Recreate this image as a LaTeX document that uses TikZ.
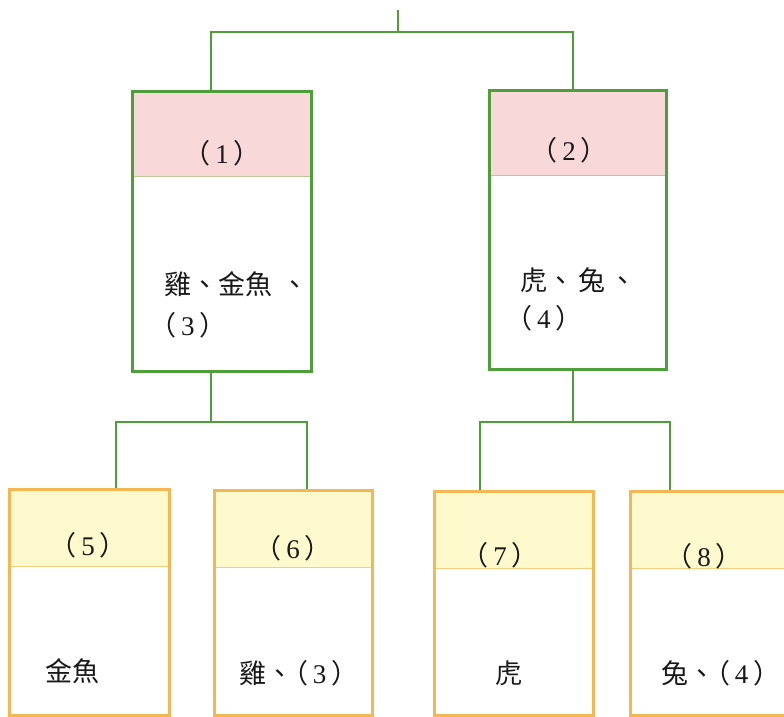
\documentclass[tikz,border=0pt]{standalone}
\usepackage{fontspec}
\newfontfamily\cjk{Noto Sans CJK TC}
\newfontfamily\digf{Liberation Serif}
\newcommand{\numpar}[1]{（\kern0.18em{\digf #1}\kern0.18em）}
\definecolor{grn}{RGB}{78,158,58}
\definecolor{pinkf}{RGB}{248,216,216}
\definecolor{pinkl}{RGB}{190,200,150}
\definecolor{yelf}{RGB}{255,250,206}
\definecolor{yell}{RGB}{245,205,130}
\definecolor{org}{RGB}{245,182,84}
\definecolor{ink}{RGB}{25,25,25}
\begin{document}
\begin{tikzpicture}[x=1pt,y=-1pt,
  conn/.style={draw=grn,line width=2.6pt},
  conns/.style={draw=grn,line width=2.2pt},
  gbox/.style={draw=grn,line width=3.2pt,rectangle,anchor=north west,inner sep=0pt},
  obox/.style={draw=org,line width=3pt,rectangle,anchor=north west,inner sep=0pt},
  phead/.style={fill=pinkf,rectangle,anchor=north west,inner sep=0pt},
  yhead/.style={fill=yelf,rectangle,anchor=north west,inner sep=0pt},
  pdiv/.style={draw=pinkl,line width=1pt},
  ydiv/.style={draw=yell,line width=1pt},
  txt/.style={font=\cjk\fontsize{27}{32}\selectfont,text=ink,inner sep=0pt}]
\useasboundingbox (0,0) rectangle (784,716);
\fill[white] (0,0) rectangle (784,716);
% coordinates for connectors
\coordinate (t) at (398,10);
\coordinate (j1) at (211,32);
\coordinate (j2) at (573,32);
\coordinate (k1) at (211,422);
\coordinate (k2) at (573,422);
\coordinate (c5) at (116,422);
\coordinate (c6) at (307,422);
\coordinate (c7) at (480,422);
\coordinate (c8) at (670,422);
% headers
\node[phead,minimum width=179pt,minimum height=86pt] (h1) at (131,90) {};
\node[phead,minimum width=177pt,minimum height=86pt] (h2) at (488,89) {};
\node[yhead,minimum width=160pt,minimum height=78pt] (h5) at (8,488) {};
\node[yhead,minimum width=158pt,minimum height=78pt] (h6) at (213,489) {};
\node[yhead,minimum width=159pt,minimum height=78pt] (h7) at (433,490) {};
\node[yhead,minimum width=171pt,minimum height=78pt] (h8) at (629,490) {};
\draw[pdiv] (h1.south west) -- (h1.south east);
\draw[pdiv] (h2.south west) -- (h2.south east);
\draw[ydiv] (h5.south west) -- (h5.south east);
\draw[ydiv] (h6.south west) -- (h6.south east);
\draw[ydiv] (h7.south west) -- (h7.south east);
\draw[ydiv] (h8.south west) -- (h8.south east);
% boxes
\node[gbox,minimum width=179pt,minimum height=280pt] (b1) at (131,90) {};
\node[gbox,minimum width=177pt,minimum height=279pt] (b2) at (488,89) {};
\node[obox,minimum width=160pt,minimum height=226pt] (b5) at (8,488) {};
\node[obox,minimum width=158pt,minimum height=225pt] (b6) at (213,489) {};
\node[obox,minimum width=159pt,minimum height=224pt] (b7) at (433,490) {};
\node[obox,minimum width=171pt,minimum height=224pt] (b8) at (629,490) {};
% connectors
\draw[conn] (t) -- (t |- j1);
\draw[conn] (j1 |- b1.north) -- (j1) -- (j2) -- (j2 |- b2.north);
\draw[conn] (k1 |- b1.south) -- (k1);
\draw[conn] (k2 |- b2.south) -- (k2);
\draw[conns] (c5 |- b5.north) -- (c5) -- (c6) -- (c6 |- b6.north);
\draw[conns] (c7 |- b7.north) -- (c7) -- (c8) -- (c8 |- b8.north);
% header labels
\node[txt] (l1) at (222,153) {\numpar{1}};
\node[txt] (l2) at (569,150) {\numpar{2}};
\node[txt] (l5) at (88,545) {\numpar{5}};
\node[txt] (l6) at (293,548) {\numpar{6}};
\node[txt] (l7) at (500,555) {\numpar{7}};
\node[txt] (l8) at (704,556) {\numpar{8}};
% body texts
\node[txt,anchor=west] (m1a) at (164,284) {雞、金魚\kern0.35em、};
\node[txt,anchor=west] (m1b) at (149,325) {\numpar{3}};
\node[txt,anchor=west] (m2a) at (520,280) {虎、\kern0.15em兔\kern0.15em、};
\node[txt,anchor=west] (m2b) at (505,318) {\numpar{4}};
\node[txt] (m5) at (72,671) {金魚};
\node[txt,anchor=west] (m6) at (239,673) {雞、\kern-0.45em\numpar{3}};
\node[txt] (m7) at (509,673) {虎};
\node[txt,anchor=west] (m8) at (661,673) {兔、\kern-0.45em\numpar{4}};
\end{tikzpicture}
\end{document}
